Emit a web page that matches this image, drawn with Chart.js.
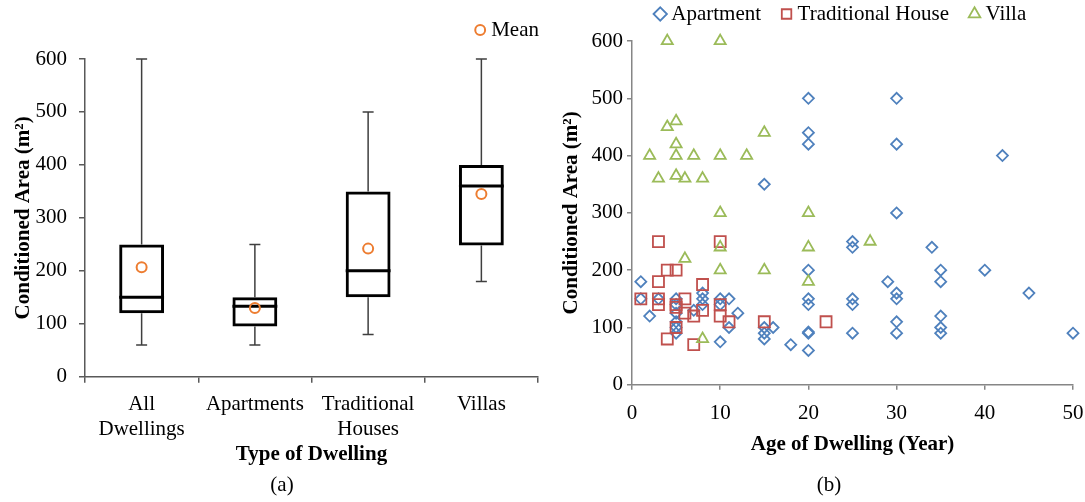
<!DOCTYPE html>
<html lang="en">
<head>
<meta charset="UTF-8">
<title>Conditioned area by dwelling type and age</title>
<script src="https://cdn.jsdelivr.net/npm/chart.js"></script>
<style>
  body { margin: 0; background: #fff; }
  #wrap { position: relative; width: 1085px; height: 502px; overflow: hidden; }
  .panel { position: absolute; top: 0; height: 502px; }
</style>
</head>
<body>
<div id="wrap">
  <div class="panel" style="left:0;width:545px"><canvas id="boxChart"></canvas></div>
  <div class="panel" style="left:545px;width:540px"><canvas id="scatterChart"></canvas></div>
</div>
<script>
// (a) box plot statistics per dwelling type
const dwellingTypes = [['All', 'Dwellings'], 'Apartments', ['Traditional', 'Houses'], 'Villas'];
const areaMin = [60, 60, 80, 180];
const areaQ1 = [120, 95, 150, 248];
const areaMedian = [150, 133, 200, 360];
const areaQ3 = [250, 150, 350, 400];
const areaMax = [600, 250, 500, 600];
const areaMean = [207, 130, 242, 345];

// (b) age vs conditioned area
const aptAge = [20, 30, 20, 20, 30, 42, 15, 30, 25, 25, 34, 20, 35, 40, 1, 29, 35, 30, 45, 1, 3, 5, 8, 8, 10, 11, 20, 25, 30,
  20, 25, 8, 10, 5, 5, 12, 2, 7, 35, 5, 30, 11, 15, 16, 35, 5, 5, 15, 20, 20, 25, 30, 35, 50, 15, 18, 10, 20];
const aptArea = [500, 500, 440, 420, 420, 400, 350, 300, 250, 240, 240, 200, 200, 200, 180, 180, 180, 160, 160, 150, 150, 150, 160, 150, 150, 150, 150, 150, 150,
  140, 140, 140, 140, 140, 125, 125, 120, 130, 120, 110, 110, 100, 100, 100, 100, 100, 90, 90, 92, 90, 90, 90, 90, 90, 80, 70, 75, 60];
const houseAge = [3, 10, 4, 5, 3, 8, 1, 3, 3, 6, 5, 5, 6, 7, 8, 10, 10, 11, 15, 22, 5, 4, 7];
const houseArea = [250, 250, 200, 200, 180, 175, 150, 150, 140, 150, 135, 140, 125, 120, 130, 140, 120, 110, 110, 110, 100, 80, 70];
const villaAge = [4, 10, 4, 5, 5, 2, 5, 7, 10, 13, 15, 3, 5, 6, 8, 10, 20, 27, 6, 10, 20, 10, 15, 20, 8];
const villaArea = [600, 600, 450, 460, 420, 400, 400, 400, 400, 400, 440, 360, 365, 360, 360, 300, 300, 250, 220, 240, 240, 200, 200, 180, 80];

Chart.defaults.font.family = "'Liberation Serif', 'Times New Roman', serif";
Chart.defaults.font.size = 21;
Chart.defaults.color = '#000';

const toPoints = (xs, ys) => xs.map((x, i) => ({ x: x, y: ys[i] }));

// nudge legend / title boxes after layout so they sit where the original has them
const boxOffset = {
  id: 'boxOffset',
  afterLayout(chart, args, opts) {
    const boxes = { legend: chart.legend, title: chart.titleBlock };
    Object.keys(boxes).forEach(key => {
      const b = boxes[key], o = opts[key];
      if (!b || !o) return;
      b.left += o.dx || 0; b.right += o.dx || 0;
      b.top += o.dy || 0; b.bottom += o.dy || 0;
    });
  }
};

// whiskers and median line, drawn from the stats arrays via the y scale
const boxWhiskers = {
  id: 'boxWhiskers',
  beforeDatasetsDraw(chart) {
    const idx = chart.data.datasets.findIndex(d => d.label === 'Interquartile range');
    const meta = chart.getDatasetMeta(idx);
    const y = chart.scales.y;
    const ctx = chart.ctx;
    const cap = 5.5;
    ctx.save();
    meta.data.forEach((bar, i) => {
      const x = bar.x;
      const yMax = y.getPixelForValue(areaMax[i]);
      const yMin = y.getPixelForValue(areaMin[i]);
      ctx.strokeStyle = '#3f3f3f';
      ctx.lineWidth = 1.5;
      ctx.beginPath();
      ctx.moveTo(x, yMax); ctx.lineTo(x, y.getPixelForValue(areaQ3[i]));
      ctx.moveTo(x, y.getPixelForValue(areaQ1[i])); ctx.lineTo(x, yMin);
      ctx.moveTo(x - cap, yMax); ctx.lineTo(x + cap, yMax);
      ctx.moveTo(x - cap, yMin); ctx.lineTo(x + cap, yMin);
      ctx.stroke();
      const yMed = y.getPixelForValue(areaMedian[i]);
      ctx.strokeStyle = '#000';
      ctx.lineWidth = 3;
      ctx.beginPath();
      ctx.moveTo(x - bar.width / 2, yMed); ctx.lineTo(x + bar.width / 2, yMed);
      ctx.stroke();
    });
    ctx.restore();
  }
};

const axisGray = '#595959';

new Chart(document.getElementById('boxChart'), {
  type: 'bar',
  data: {
    labels: dwellingTypes,
    datasets: [
      {
        type: 'line',
        label: 'Mean',
        data: areaMean,
        showLine: false,
        pointStyle: 'circle',
        pointRadius: 5,
        borderColor: '#ED7D31',
        backgroundColor: 'rgba(0,0,0,0)',
        borderWidth: 2,
        order: 0
      },
      {
        label: 'Interquartile range',
        data: areaQ1.map((q, i) => [q, areaQ3[i]]),
        backgroundColor: 'rgba(0,0,0,0)',
        borderColor: '#000',
        borderWidth: 3,
        borderSkipped: false,
        barPercentage: 0.396,
        categoryPercentage: 1,
        order: 1
      }
    ]
  },
  options: {
    responsive: true,
    maintainAspectRatio: false,
    animation: false,
    events: [],
    layout: { padding: { top: 18, right: 6, left: 0, bottom: 0 } },
    plugins: {
      legend: {
        position: 'top',
        align: 'end',
        labels: {
          usePointStyle: true,
          boxWidth: 1,
          boxHeight: 7,
          padding: 10,
          filter: item => item.text === 'Mean'
        }
      },
      title: {
        display: true,
        position: 'bottom',
        text: '(a)',
        font: { weight: 'normal', size: 21 },
        padding: { top: 0, bottom: 4 }
      },
      tooltip: { enabled: false },
      boxOffset: { legend: { dx: 10, dy: -8.5 }, title: { dx: 12.5 } }
    },
    scales: {
      x: {
        afterFit(scale) { scale.height = 96; },
        border: { color: axisGray, width: 1.5 },
        grid: { drawOnChartArea: false, drawTicks: true, tickLength: 6, color: axisGray, lineWidth: 1.5 },
        ticks: { padding: 9, maxRotation: 0, font: { size: 21, lineHeight: 1.19 } },
        title: { display: true, text: 'Type of Dwelling', font: { size: 21, weight: 'bold' }, padding: { top: 0, bottom: 5.5 } }
      },
      y: {
        min: 0,
        max: 600,
        afterFit(scale) { scale.width = 85; },
        border: { color: axisGray, width: 1.5 },
        grid: { drawOnChartArea: false, drawTicks: true, tickLength: 6, color: axisGray, lineWidth: 1.5 },
        ticks: { stepSize: 100, padding: 12 },
        title: { display: true, text: 'Conditioned Area (m²)', font: { size: 21, weight: 'bold' }, padding: { top: 11, bottom: 0 } }
      }
    }
  },
  plugins: [boxWhiskers, boxOffset]
});

const scatterGray = '#868686';

new Chart(document.getElementById('scatterChart'), {
  type: 'scatter',
  data: {
    datasets: [
      {
        label: 'Apartment',
        data: toPoints(aptAge, aptArea),
        pointStyle: 'rectRot',
        pointRadius: 5.5,
        borderColor: '#4F81BD',
        backgroundColor: 'rgba(0,0,0,0)',
        borderWidth: 1.8,
        clip: false,
        order: 3
      },
      {
        label: 'Traditional House',
        data: toPoints(houseAge, houseArea),
        pointStyle: 'rect',
        pointRadius: 7.8,
        borderColor: '#C0504D',
        backgroundColor: 'rgba(0,0,0,0)',
        borderWidth: 1.8,
        clip: false,
        order: 2
      },
      {
        label: 'Villa',
        data: toPoints(villaAge, villaArea),
        pointStyle: 'triangle',
        pointRadius: 6.4,
        borderColor: '#9BBB59',
        backgroundColor: 'rgba(0,0,0,0)',
        borderWidth: 1.8,
        clip: false,
        order: 1
      }
    ]
  },
  options: {
    responsive: true,
    maintainAspectRatio: false,
    animation: false,
    events: [],
    layout: { padding: { top: -15, right: 12, left: 0, bottom: 0 } },
    plugins: {
      legend: {
        position: 'top',
        align: 'center',
        labels: {
          usePointStyle: true,
          boxWidth: 1,
          boxHeight: 9.5,
          padding: 25,
          sort: (a, b) => a.datasetIndex - b.datasetIndex
        }
      },
      title: {
        display: true,
        position: 'bottom',
        text: '(b)',
        font: { weight: 'normal', size: 21 },
        padding: { top: 0, bottom: 4 }
      },
      tooltip: { enabled: false },
      boxOffset: { legend: { dx: 34, dy: -6.5 }, title: { dx: 20 } }
    },
    scales: {
      x: {
        min: 0,
        max: 50,
        afterFit(scale) { scale.height = 88; scale.paddingRight = 0; scale.paddingLeft = 0; },
        border: { color: scatterGray, width: 1.5 },
        grid: { drawOnChartArea: false, drawTicks: true, tickLength: 5, color: scatterGray, lineWidth: 1.5 },
        ticks: { stepSize: 10, padding: 11 },
        title: { display: true, text: 'Age of Dwelling (Year)', font: { size: 21, weight: 'bold' }, padding: { top: 0, bottom: 15.5 } }
      },
      y: {
        min: 0,
        max: 600,
        afterFit(scale) { scale.width = 87; },
        border: { color: scatterGray, width: 1.5 },
        grid: { drawOnChartArea: false, drawTicks: true, tickLength: 5, color: scatterGray, lineWidth: 1.5 },
        ticks: { stepSize: 100, padding: 4 },
        title: { display: true, text: 'Conditioned Area (m²)', font: { size: 21, weight: 'bold' }, padding: { top: 14.4, bottom: 0 } }
      }
    }
  },
  plugins: [boxOffset]
});
</script>
</body>
</html>
